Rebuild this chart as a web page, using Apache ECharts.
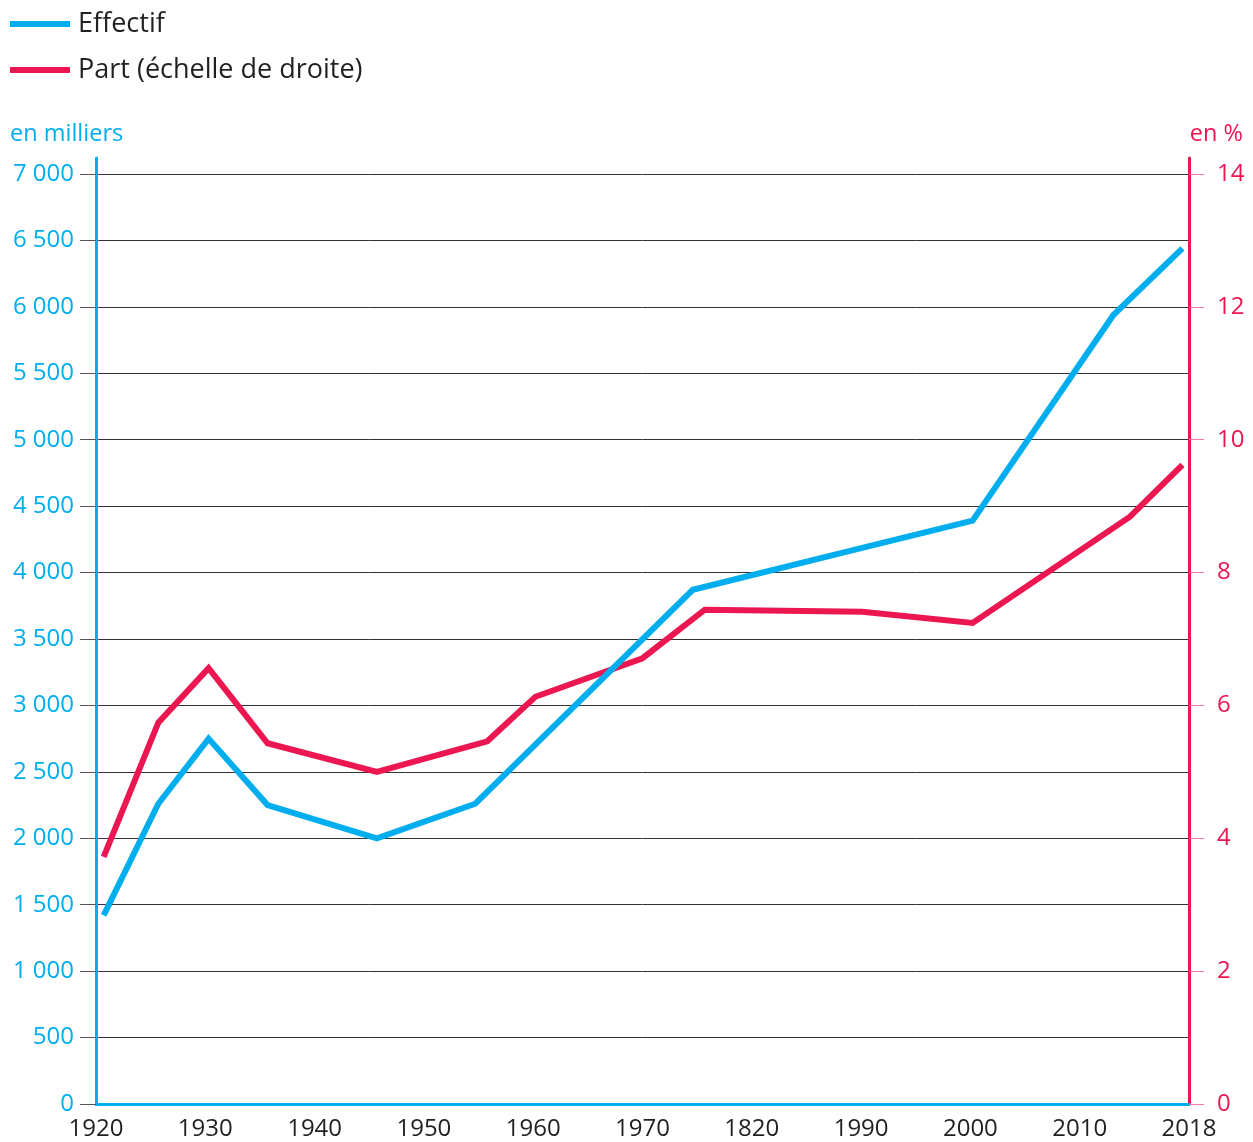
<!DOCTYPE html>
<html>
<head>
<meta charset="utf-8">
<script src="https://cdn.jsdelivr.net/npm/echarts@6/dist/echarts.min.js"></script>
<style>
html,body{margin:0;padding:0;background:#fff;}
#chart{width:1253px;height:1142px;}
</style>
</head>
<body>
<div id="chart"></div>
<script>
// X positions are on the chart's own (uneven-labelled) horizontal scale
const xTickValues = [1920, 1930, 1940, 1950, 1960, 1970, 1980, 1990, 2000, 2010, 2020];
const xTickLabels = ['1920', '1930', '1940', '1950', '1960', '1970', '1820', '1990', '2000', '2010', '2018'];

const effectifX = [1920.7, 1925.7, 1930.3, 1935.7, 1945.7, 1954.7, 1974.6, 1990.1, 2000.2, 2013.1, 2019.4];
const effectifY = [1420, 2260, 2750, 2250, 2000, 2260, 3870, 4185, 4390, 5940, 6440];

const partX = [1920.7, 1925.7, 1930.3, 1935.7, 1945.7, 1955.8, 1960.2, 1970.0, 1975.7, 1990.1, 2000.2, 2014.6, 2019.4];
const partY = [3.72, 5.74, 6.56, 5.43, 5.00, 5.46, 6.13, 6.71, 7.44, 7.41, 7.24, 8.84, 9.62];

const leftTicks = [0, 500, 1000, 1500, 2000, 2500, 3000, 3500, 4000, 4500, 5000, 5500, 6000, 6500, 7000];
const rightTicks = [0, 2, 4, 6, 8, 10, 12, 14];

const BLUE = '#00aeef';
const RED = '#ec1651';
const FONT = 'Open Sans';

function fmtThousands(v) {
  return String(v).replace(/\B(?=(\d{3})+(?!\d))/g, ' ');
}

const chart = echarts.init(document.getElementById('chart'), null, {renderer: 'canvas'});
chart.setOption({
  animation: false,
  backgroundColor: '#fff',
  textStyle: {fontFamily: FONT},
  legend: {
    orient: 'vertical',
    align: 'left',
    left: 10,
    top: 9,
    padding: 0,
    icon: 'path://M0,0H60V6H0Z',
    itemWidth: 60,
    itemHeight: 6,
    itemGap: 16,
    itemStyle: {borderWidth: 0},
    textStyle: {fontFamily: FONT, fontSize: 27, color: '#231f20', lineHeight: 30, padding: [0, 0, 0, 3]},
    data: [
      {name: 'Effectif', itemStyle: {color: BLUE}},
      {name: 'Part (échelle de droite)', itemStyle: {color: RED}}
    ]
  },
  graphic: [
    {type: 'text', left: 10, top: 122, style: {text: 'en milliers', fill: BLUE, font: '23.5px "Open Sans"'}},
    {type: 'text', right: 10, top: 122, style: {text: 'en %', fill: RED, font: '23.5px "Open Sans"'}}
  ],
  grid: {left: 96, right: 64, top: 158, bottom: 38, containLabel: false},
  xAxis: {
    type: 'value',
    min: 1920,
    max: 2020,
    interval: 10,
    axisLine: {show: true, lineStyle: {color: BLUE, width: 3}},
    axisTick: {show: false},
    splitLine: {show: false},
    axisLabel: {
      margin: 13,
      fontSize: 24,
      color: '#231f20',
      fontFamily: FONT,
      formatter: function (v) {
        const i = xTickValues.indexOf(Math.round(v));
        return i >= 0 ? xTickLabels[i] : '';
      }
    }
  },
  yAxis: [
    {
      type: 'value',
      min: 0,
      max: 7120,
      interval: 500,
      position: 'left',
      axisLine: {show: true, onZero: false, lineStyle: {color: BLUE, width: 3}},
      axisTick: {show: true, length: 16, customValues: leftTicks, lineStyle: {color: '#555', width: 1}},
      splitLine: {show: true, showMinLine: true, showMaxLine: true, lineStyle: {color: '#333', width: 1}},
      axisLabel: {
        margin: 22,
        fontSize: 24,
        color: BLUE,
        fontFamily: FONT,
        customValues: leftTicks,
        formatter: function (v) { return v % 500 === 0 && v <= 7000 ? fmtThousands(v) : ''; }
      }
    },
    {
      type: 'value',
      min: 0,
      max: 14.24,
      interval: 2,
      position: 'right',
      axisLine: {show: true, onZero: false, lineStyle: {color: RED, width: 3}},
      axisTick: {show: true, length: 15, customValues: rightTicks, lineStyle: {color: '#f27a9a', width: 1}},
      splitLine: {show: false},
      axisLabel: {
        margin: 28,
        fontSize: 24,
        color: RED,
        fontFamily: FONT,
        customValues: rightTicks,
        formatter: function (v) { return (Math.abs(v % 2) < 1e-9 && v <= 14) ? String(v) : ''; }
      }
    }
  ],
  series: [
    {
      name: 'Effectif',
      type: 'line',
      yAxisIndex: 0,
      symbol: 'none',
      color: BLUE,
      lineStyle: {color: BLUE, width: 6, cap: 'butt', join: 'miter'},
      data: effectifX.map((x, i) => [x, effectifY[i]]),
      z: 3
    },
    {
      name: 'Part (échelle de droite)',
      type: 'line',
      yAxisIndex: 1,
      symbol: 'none',
      color: RED,
      lineStyle: {color: RED, width: 6, cap: 'butt', join: 'miter'},
      data: partX.map((x, i) => [x, partY[i]]),
      z: 2
    }
  ]
});
</script>
</body>
</html>
